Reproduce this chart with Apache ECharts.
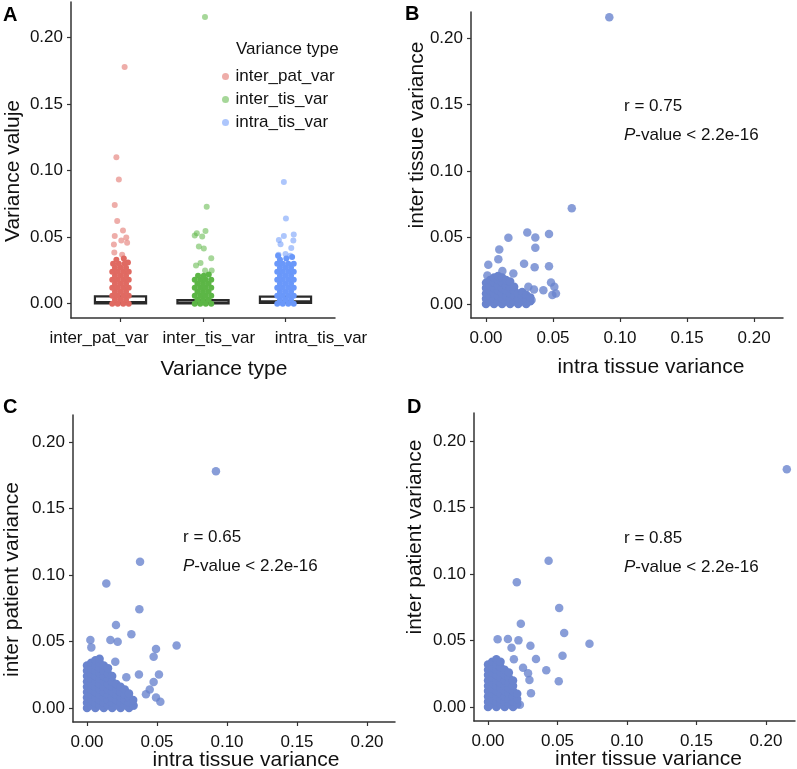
<!DOCTYPE html>
<html>
<head>
<meta charset="utf-8">
<title>Variance comparison</title>
<script src="https://cdn.jsdelivr.net/npm/echarts@6/dist/echarts.min.js"></script>
<style>
    html, body { margin: 0; padding: 0; background: #fff; }
    #chart { width: 797px; height: 769px; }
</style>
</head>
<body>
<div id="chart"></div>
<script>
// categories / ticks
var varianceTypes = ['inter_pat_var', 'inter_tis_var', 'intra_tis_var'];
var tickValues = [0, 0.05, 0.10, 0.15, 0.20];

// panel A: [jitter offset, value] per variance type
var patOut = [[0.05, 0.178], [-0.05, 0.110], [-0.02, 0.0933], [-0.07, 0.0741], [-0.04, 0.0621], [0.03, 0.0549],
    [-0.07, 0.0509], [0.07, 0.0497], [0.01, 0.0474], [0.08, 0.0457], [-0.08, 0.0444], [-0.075, 0.0384], [0.02, 0.0367]];
var patBlob = [[-0.1, 0], [-0.033, 0], [0.033, 0], [0.1, 0],
    [-0.067, 0.003], [0, 0.003], [0.067, 0.003],
    [-0.1, 0.006], [-0.033, 0.006], [0.033, 0.006], [0.1, 0.006],
    [-0.067, 0.009], [0, 0.009], [0.067, 0.009],
    [-0.1, 0.012], [-0.033, 0.012], [0.033, 0.012], [0.1, 0.012],
    [-0.067, 0.015], [0, 0.015], [0.067, 0.015],
    [-0.1, 0.018], [-0.033, 0.018], [0.033, 0.018], [0.1, 0.018],
    [-0.067, 0.021], [0, 0.021], [0.067, 0.021],
    [-0.1, 0.024], [-0.033, 0.024], [0.033, 0.024], [0.1, 0.024],
    [-0.067, 0.027], [0, 0.027], [0.067, 0.027],
    [-0.09, 0.030], [-0.02, 0.030], [0.05, 0.030], [0.09, 0.031],
    [-0.05, 0.033], [0.04, 0.034]];

var tisOut = [[0.024, 0.2156], [0.045, 0.0728], [-0.075, 0.0529], [0.03, 0.0546], [-0.01, 0.0504], [-0.1, 0.0512],
    [-0.05, 0.0429], [0.01, 0.0414], [0.1, 0.0342], [-0.03, 0.0305], [-0.085, 0.0287], [0.025, 0.025], [0.105, 0.025]];
var tisBlob = [[-0.1, 0], [-0.033, 0], [0.033, 0], [0.1, 0],
    [-0.067, 0.003], [0, 0.003], [0.067, 0.003],
    [-0.1, 0.006], [-0.033, 0.006], [0.033, 0.006], [0.1, 0.006],
    [-0.067, 0.009], [0, 0.009], [0.067, 0.009],
    [-0.1, 0.012], [-0.033, 0.012], [0.033, 0.012], [0.1, 0.012],
    [-0.067, 0.015], [0, 0.015], [0.067, 0.015],
    [-0.1, 0.018], [-0.033, 0.018], [0.033, 0.018], [0.1, 0.018],
    [-0.06, 0.021], [0.01, 0.021], [0.07, 0.022]];

var intraOut = [[-0.02, 0.0915], [0.005, 0.0641], [-0.02, 0.0509], [0.1, 0.0519], [-0.08, 0.0479], [-0.06, 0.0447],
    [0.095, 0.0474], [0.07, 0.0419], [-0.085, 0.0367], [0, 0.0374], [0.06, 0.036]];
var intraBlob = [[-0.1, 0], [-0.033, 0], [0.033, 0], [0.1, 0],
    [-0.067, 0.003], [0, 0.003], [0.067, 0.003],
    [-0.1, 0.006], [-0.033, 0.006], [0.033, 0.006], [0.1, 0.006],
    [-0.067, 0.009], [0, 0.009], [0.067, 0.009],
    [-0.1, 0.012], [-0.033, 0.012], [0.033, 0.012], [0.1, 0.012],
    [-0.067, 0.015], [0, 0.015], [0.067, 0.015],
    [-0.1, 0.018], [-0.033, 0.018], [0.033, 0.018], [0.1, 0.018],
    [-0.067, 0.021], [0, 0.021], [0.067, 0.021],
    [-0.1, 0.024], [-0.033, 0.024], [0.033, 0.024], [0.1, 0.024],
    [-0.067, 0.027], [0, 0.027], [0.067, 0.027],
    [-0.1, 0.030], [-0.033, 0.030], [0.033, 0.030], [0.1, 0.030],
    [-0.067, 0.033], [0.01, 0.034], [0.08, 0.035], [-0.09, 0.036]];

// box stats per variance type
var boxQ1 = [0.0002, 0.0001, 0.0006];
var boxMedian = [0.0012, 0.0007, 0.0018];
var boxQ3 = [0.0054, 0.0026, 0.0053];

// panel B: intra tissue (x) vs inter tissue (y)
var bOut = [[0.092, 0.2156], [0.064, 0.072], [0.0167, 0.0498], [0.0308, 0.0537], [0.0368, 0.050], [0.047, 0.0527],
    [0.0099, 0.041], [0.0368, 0.0423], [0.0092, 0.0336], [0.0017, 0.0296], [0.0284, 0.0303], [0.0363, 0.0276],
    [0.047, 0.0284], [0.001, 0.0214], [0.0122, 0.0249], [0.0204, 0.0229], [0.0485, 0.0162], [0.051, 0.013],
    [0.0428, 0.0104], [0.0495, 0.0067], [0.0522, 0.008], [0.0358, 0.011], [0.0316, 0.013], [0.034, 0.003]];
var bBlob = [[0, 0], [0, 0.004], [0, 0.008], [0, 0.012], [0, 0.016],
    [0.003, 0.002], [0.003, 0.006], [0.003, 0.010], [0.003, 0.014], [0.003, 0.018],
    [0.006, 0], [0.006, 0.004], [0.006, 0.008], [0.006, 0.012], [0.006, 0.016], [0.006, 0.020],
    [0.009, 0.002], [0.009, 0.006], [0.009, 0.010], [0.009, 0.014], [0.009, 0.018], [0.009, 0.021],
    [0.012, 0], [0.012, 0.004], [0.012, 0.008], [0.012, 0.012], [0.012, 0.016], [0.012, 0.020],
    [0.015, 0.002], [0.015, 0.006], [0.015, 0.010], [0.015, 0.014], [0.015, 0.018],
    [0.018, 0], [0.018, 0.004], [0.018, 0.008], [0.018, 0.012], [0.018, 0.017],
    [0.021, 0.002], [0.021, 0.006], [0.021, 0.010], [0.021, 0.013],
    [0.024, 0], [0.024, 0.004], [0.024, 0.008],
    [0.027, 0.002], [0.027, 0.006], [0.027, 0.009],
    [0.030, 0], [0.030, 0.004], [0.030, 0.007],
    [0.033, 0.002], [0.033, 0.005]];

// panel C: intra tissue (x) vs inter patient (y)
var cOut = [[0.0921, 0.178], [0.0379, 0.110], [0.0138, 0.0937], [0.0374, 0.0742], [0.0207, 0.0624], [0.0317, 0.0554],
    [0.0024, 0.0511], [0.0167, 0.0511], [0.0219, 0.0499], [0.0031, 0.0456], [0.064, 0.047], [0.0493, 0.0444],
    [0.0476, 0.0386], [0.0371, 0.0253], [0.0514, 0.0253], [0.0281, 0.0231], [0.0476, 0.0195], [0.0448, 0.014],
    [0.0421, 0.0103], [0.0493, 0.008], [0.0524, 0.0047], [0.0202, 0.0348], [0.0333, 0.0017]];
var cBlob = [[0, 0], [0, 0.004], [0, 0.008], [0, 0.012], [0, 0.016], [0, 0.020], [0, 0.024], [0, 0.028], [0, 0.032],
    [0.003, 0.002], [0.003, 0.006], [0.003, 0.010], [0.003, 0.014], [0.003, 0.018], [0.003, 0.022], [0.003, 0.026], [0.003, 0.030], [0.003, 0.034],
    [0.006, 0], [0.006, 0.004], [0.006, 0.008], [0.006, 0.012], [0.006, 0.016], [0.006, 0.020], [0.006, 0.024], [0.006, 0.028], [0.006, 0.032], [0.006, 0.036],
    [0.009, 0.002], [0.009, 0.006], [0.009, 0.010], [0.009, 0.014], [0.009, 0.018], [0.009, 0.022], [0.009, 0.026], [0.009, 0.030], [0.009, 0.034], [0.009, 0.037],
    [0.012, 0], [0.012, 0.004], [0.012, 0.008], [0.012, 0.012], [0.012, 0.016], [0.012, 0.020], [0.012, 0.024], [0.012, 0.028], [0.012, 0.032],
    [0.015, 0.002], [0.015, 0.006], [0.015, 0.010], [0.015, 0.014], [0.015, 0.018], [0.015, 0.022], [0.015, 0.026], [0.015, 0.030],
    [0.018, 0], [0.018, 0.004], [0.018, 0.008], [0.018, 0.012], [0.018, 0.016], [0.018, 0.020], [0.018, 0.024],
    [0.021, 0.002], [0.021, 0.006], [0.021, 0.010], [0.021, 0.014], [0.021, 0.018],
    [0.024, 0], [0.024, 0.004], [0.024, 0.008], [0.024, 0.012], [0.024, 0.016],
    [0.027, 0.002], [0.027, 0.006], [0.027, 0.010], [0.027, 0.014],
    [0.030, 0], [0.030, 0.004], [0.030, 0.008], [0.030, 0.011],
    [0.033, 0.002], [0.033, 0.006]];

// panel D: inter tissue (x) vs inter patient (y)
var dOut = [[0.215, 0.1787], [0.0436, 0.110], [0.0207, 0.0937], [0.0512, 0.0744], [0.0236, 0.0626], [0.0548, 0.0556],
    [0.073, 0.0476], [0.0069, 0.0509], [0.0143, 0.0511], [0.0219, 0.0501], [0.0169, 0.0446], [0.0305, 0.0461],
    [0.0536, 0.0386], [0.0345, 0.0361], [0.0419, 0.0276], [0.0252, 0.0296], [0.0288, 0.0253], [0.0298, 0.0203],
    [0.0509, 0.0193], [0.0309, 0.0103], [0.0229, 0.0017], [0.0186, 0.0359]];
var dBlob = [[0, 0], [0, 0.004], [0, 0.008], [0, 0.012], [0, 0.016], [0, 0.020], [0, 0.024], [0, 0.028], [0, 0.032],
    [0.003, 0.002], [0.003, 0.006], [0.003, 0.010], [0.003, 0.014], [0.003, 0.018], [0.003, 0.022], [0.003, 0.026], [0.003, 0.030], [0.003, 0.034],
    [0.006, 0], [0.006, 0.004], [0.006, 0.008], [0.006, 0.012], [0.006, 0.016], [0.006, 0.020], [0.006, 0.024], [0.006, 0.028], [0.006, 0.032], [0.006, 0.036],
    [0.009, 0.002], [0.009, 0.006], [0.009, 0.010], [0.009, 0.014], [0.009, 0.018], [0.009, 0.022], [0.009, 0.026], [0.009, 0.030], [0.009, 0.034],
    [0.012, 0], [0.012, 0.004], [0.012, 0.008], [0.012, 0.012], [0.012, 0.016], [0.012, 0.020], [0.012, 0.024], [0.012, 0.028],
    [0.015, 0.002], [0.015, 0.006], [0.015, 0.010], [0.015, 0.014], [0.015, 0.018], [0.015, 0.022], [0.015, 0.026],
    [0.018, 0], [0.018, 0.004], [0.018, 0.008], [0.018, 0.012], [0.018, 0.016], [0.018, 0.020],
    [0.021, 0.002], [0.021, 0.006], [0.021, 0.010]];

var FONT = "'Liberation Sans', Arial, sans-serif";
var stripColors = ['#E06A62', '#5CB646', '#6A98FA'];
var dotColor = '#6A84CE';
// where panel A's category labels sit (they are spread wider than the ticks)
var stripLabelSpots = [0.74, 2.07, 3.43];

var chart = echarts.init(document.getElementById('chart'), null, { renderer: 'canvas' });

// shared axis builder; shift moves the title along the axis (px)
var valueAxis = function (gridIndex, min, max, name, nameGap, isY, shift) {
    var pad = [0, 0, 0, 0];
    if (shift > 0) pad[isY ? 1 : 3] = 2 * shift;
    if (shift < 0) pad[isY ? 3 : 1] = -2 * shift;
    return {
        type: 'value', gridIndex: gridIndex, min: min, max: max,
        position: isY ? 'left' : 'bottom',
        name: name, nameLocation: 'middle', nameGap: nameGap,
        nameRotate: isY ? 90 : 0,
        nameMoveOverlap: false,
        nameTextStyle: { fontSize: 21, color: '#111', fontFamily: FONT, padding: pad },
        axisLine: { show: true, onZero: false, lineStyle: { color: '#333', width: 1.5 } },
        axisTick: { show: true, length: 4, customValues: tickValues, lineStyle: { color: '#333', width: 1.2 } },
        axisLabel: {
            customValues: tickValues, margin: isY ? 8 : 12,
            showMinLabel: true, showMaxLabel: true,
            fontSize: 17, color: '#111', fontFamily: FONT,
            formatter: function (v) { return v.toFixed(2); }
        },
        splitLine: { show: false }
    };
};

var shiftCat = function (arr, k) {
    return arr.map(function (p) { return [k + p[0], p[1]]; });
};

var stripSeries = function (name, data, opacity, k) {
    return {
        name: name, type: 'scatter', xAxisIndex: 0, yAxisIndex: 0,
        symbolSize: 6, data: shiftCat(data, k), silent: true,
        itemStyle: { color: stripColors[k - 1], opacity: opacity }, z: 3
    };
};

var dotSeries = function (idx, data, opacity) {
    return {
        type: 'scatter', xAxisIndex: idx, yAxisIndex: idx, symbolSize: 8.5,
        data: data, silent: true, itemStyle: { color: dotColor, opacity: opacity }
    };
};

var boxData = varianceTypes.map(function (t, i) {
    return [i + 1, boxQ1[i], boxMedian[i], boxQ3[i]];
});

var annot = function (x, y, r) {
    return [
        { type: 'text', left: x, top: y, style: { text: 'r = ' + r, fontSize: 17, fill: '#111', fontFamily: FONT } },
        {
            type: 'text', left: x, top: y + 29, style: {
                text: '{i|P}-value < 2.2e-16', fontSize: 17, fill: '#111', fontFamily: FONT,
                rich: { i: { fontStyle: 'italic', fontSize: 17, fontFamily: FONT } }
            }
        }
    ];
};

var letter = function (txt, x, y) {
    return { type: 'text', left: x, top: y, style: { text: txt, fontSize: 20, fontWeight: 'bold', fill: '#000', fontFamily: FONT } };
};

var graphics = [
    letter('A', 3, 5), letter('B', 405, 4), letter('C', 3, 397), letter('D', 407, 397),
    { type: 'text', left: 236, top: 41, style: { text: 'Variance type', fontSize: 17, fill: '#111', fontFamily: FONT } }
].concat(annot(624, 98, '0.75'), annot(183, 529, '0.65'), annot(624, 530, '0.85'));

// panel A x axes: one carries the ticks and title, the other the spread labels
var stripAxis = valueAxis(0, 0.4, 3.6, 'Variance type', 41, false, 21);
stripAxis.axisTick.customValues = [1, 2, 3];
stripAxis.axisLabel.show = false;

var stripLabelAxis = {
    type: 'value', gridIndex: 0, min: 0.4, max: 3.6, position: 'bottom', offset: 0,
    axisLine: { show: false }, axisTick: { show: false }, splitLine: { show: false },
    axisLabel: {
        customValues: stripLabelSpots, margin: 12, showMinLabel: true, showMaxLabel: true,
        fontSize: 17, color: '#111', fontFamily: FONT,
        formatter: function (v) {
            return varianceTypes[stripLabelSpots.indexOf(v)];
        }
    }
};

var option = {
    animation: false,
    backgroundColor: '#fff',
    textStyle: { fontFamily: FONT },
    grid: [
        { left: 71, top: 2, width: 264, height: 316, outerBoundsMode: 'none' },
        { left: 471, top: 12, width: 312, height: 306, outerBoundsMode: 'none' },
        { left: 73, top: 415, width: 322, height: 307, outerBoundsMode: 'none' },
        { left: 474, top: 413, width: 321, height: 308, outerBoundsMode: 'none' }
    ],
    legend: {
        left: 217, top: 63, orient: 'vertical', icon: 'circle',
        itemWidth: 10, itemHeight: 7, itemGap: 6, selectedMode: false,
        data: varianceTypes,
        textStyle: { fontSize: 17, color: '#111', fontFamily: FONT, lineHeight: 17 }
    },
    xAxis: [
        stripAxis,
        valueAxis(1, -0.0112, 0.2216, 'intra tissue variance', 39, false, 24),
        valueAxis(2, -0.01, 0.22, 'intra tissue variance', 28, false, 12),
        valueAxis(3, -0.0101, 0.2209, 'inter tissue variance', 28, false, 14),
        stripLabelAxis
    ],
    yAxis: [
        valueAxis(0, -0.0108, 0.2268, 'Variance valuje', 47, true, 11),
        valueAxis(1, -0.0105, 0.2195, 'inter tissue variance', 43, true, -30),
        valueAxis(2, -0.0105, 0.2203, 'inter patient variance', 50, true, 11),
        valueAxis(3, -0.0105, 0.221, 'inter patient variance', 48, true, -30)
    ],
    graphic: graphics,
    series: [
        {
            type: 'custom', xAxisIndex: 0, yAxisIndex: 0, data: boxData, silent: true, z: 1,
            encode: { x: 0, y: [1, 2, 3] },
            renderItem: function (params, api) {
                var x = api.value(0);
                var w = api.size([0.62, 0])[0];
                var top = api.coord([x, api.value(3)]);
                var bot = api.coord([x, api.value(1)]);
                var med = api.coord([x, api.value(2)]);
                return {
                    type: 'group', children: [
                        { type: 'rect', shape: { x: top[0] - w / 2, y: top[1], width: w, height: bot[1] - top[1] },
                          style: { fill: '#fff', stroke: '#2a2a2a', lineWidth: 2.2 } },
                        { type: 'line', shape: { x1: med[0] - w / 2, y1: med[1], x2: med[0] + w / 2, y2: med[1] },
                          style: { stroke: '#2a2a2a', lineWidth: 2.2 } }
                    ]
                };
            }
        },
        stripSeries('inter_pat_var', patOut, 0.55, 1),
        stripSeries('inter_tis_var', tisOut, 0.55, 2),
        stripSeries('intra_tis_var', intraOut, 0.55, 3),
        stripSeries('inter_pat_var', patBlob, 1, 1),
        stripSeries('inter_tis_var', tisBlob, 1, 2),
        stripSeries('intra_tis_var', intraBlob, 1, 3),
        dotSeries(1, bOut, 0.8), dotSeries(1, bBlob, 1),
        dotSeries(2, cOut, 0.8), dotSeries(2, cBlob, 1),
        dotSeries(3, dOut, 0.8), dotSeries(3, dBlob, 1)
    ]
};

chart.setOption(option);
</script>
</body>
</html>
